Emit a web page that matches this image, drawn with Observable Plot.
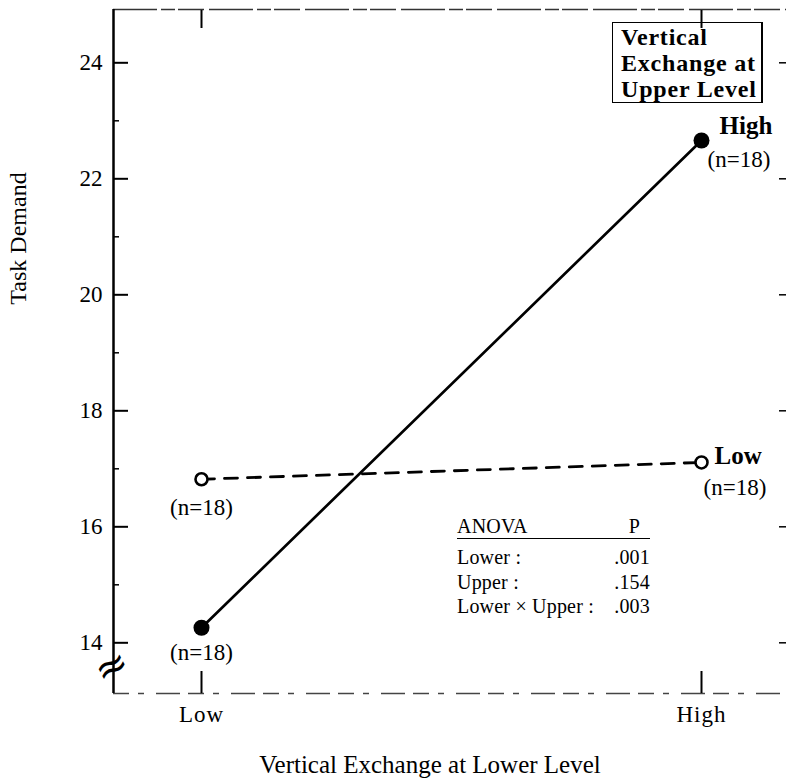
<!DOCTYPE html>
<html>
<head>
<meta charset="utf-8">
<script src="https://cdn.jsdelivr.net/npm/d3@7"></script>
<script src="https://cdn.jsdelivr.net/npm/@observablehq/plot@0.6"></script>
<style>
  body { margin: 0; background: #fff; }
  #wrap { position: relative; width: 786px; height: 778px; font-family: "Liberation Serif", "Times New Roman", serif; color: #000; }
  g[aria-label="ytitle"] text { letter-spacing: 3.4px; }
  g[aria-label="xtitle"] text { letter-spacing: 2.2px; }
  g[aria-label="nlabel"] text { letter-spacing: 3px; }
  g[aria-label="serieslabel"] text { letter-spacing: 1.2px; }
  g[aria-label="x-axis tick label"] text { letter-spacing: 1px; }
  #legendbox { position: absolute; left: 612px; top: 22px; width: 140px; height: 78px;
    border: 1.5px solid #000; border-right-width: 2.2px; padding: 1px 0 0 8px;
    font-weight: bold; font-size: 24px; line-height: 26px; letter-spacing: 0.8px; box-sizing: content-box; }
  #anova { position: absolute; left: 457px; top: 515px; width: 193px; font-size: 20px; letter-spacing: 0.2px; }
  #anova .hdr { display: flex; justify-content: space-between; line-height: 23px; border-bottom: 1.6px solid #000; padding-right: 10px; }
  #anova .rows { margin-top: 6px; }
  #anova .row { display: flex; justify-content: space-between; line-height: 24.5px; }
</style>
</head>
<body>
<div id="wrap"></div>
<script>
// ---- data ----
const lowerLevels = ["Low", "High"];            // x categories: Vertical Exchange at Lower Level
const upperLevels = ["High", "Low"];            // series: Vertical Exchange at Upper Level
const taskDemandUpperHigh = [14.26, 22.66];     // solid line, filled dots
const taskDemandUpperLow = [16.82, 17.11];      // dashed line, open dots
const groupN = [18, 18];
const yTicks = [14, 16, 18, 20, 22, 24];
const yMinorTicks = [15, 17, 19, 21, 23];
const xPositions = [0, 1];
const anovaEffects = ["Lower :", "Upper :", "Lower × Upper :"];
const anovaP = [".001", ".154", ".003"];
const legendTitle = ["Vertical", "Exchange at", "Upper Level"];
const yTitle = "Task Demand";
const xTitle = "Vertical Exchange at Lower Level";

const xDomain = [-0.176, 1.17];
const yDomain = [13.126, 24.919];

const rowsHigh = xPositions.map((p, i) => ({lower: p, demand: taskDemandUpperHigh[i], n: groupN[i], upper: upperLevels[0]}));
const rowsLow = xPositions.map((p, i) => ({lower: p, demand: taskDemandUpperLow[i], n: groupN[i], upper: upperLevels[1]}));
const nText = d => `(n=${d.n})`;

const chart = Plot.plot({
  width: 786,
  height: 778,
  marginLeft: 113,
  marginRight: 0,
  marginTop: 9,
  marginBottom: 85,
  x: {domain: xDomain, axis: null},
  y: {domain: yDomain, axis: null},
  style: {fontFamily: "'Liberation Serif', 'Times New Roman', serif", fontSize: "22px", color: "#000", background: "#fff", overflow: "visible"},
  marks: [
    // frame
    Plot.ruleY([yDomain[1]], {stroke: "#333", strokeWidth: 1.4, strokeDasharray: "44,4,14,3,26,5"}),
    Plot.ruleY([yDomain[0]], {stroke: "#444", strokeWidth: 1.4, strokeDasharray: "16,9,6,12,24,8"}),
    Plot.ruleX([xDomain[0]], {stroke: "#000", strokeWidth: 2.5}),
    // axes
    Plot.axisY(yTicks, {anchor: "left", tickSize: -15, tickPadding: 26, tickFormat: d => String(d), label: null, fontSize: 23, strokeWidth: 2}),
    Plot.axisY(yMinorTicks, {anchor: "left", tickSize: -6, tickFormat: () => "", label: null, strokeWidth: 1.5}),
    Plot.axisY(yTicks, {anchor: "right", tickSize: -8, tickFormat: () => "", label: null, strokeWidth: 1.5}),
    Plot.axisX(xPositions, {anchor: "top", tickSize: -18, tickFormat: () => "", label: null, strokeWidth: 2}),
    Plot.axisX(xPositions, {anchor: "bottom", tickSize: -22, tickPadding: 34, tickFormat: i => lowerLevels[i], label: null, fontSize: 23, strokeWidth: 2}),
    // axis break
    Plot.text(["≈"], {frameAnchor: "bottom-left", textAnchor: "middle", lineAnchor: "middle", dx: -2, dy: -27, rotate: -28, fontSize: 40, fontFamily: "DejaVu Sans", ariaLabel: "break"}),
    // titles
    Plot.text([yTitle], {frameAnchor: "top-left", textAnchor: "middle", lineAnchor: "middle", dx: -95, dy: 229, rotate: -90, fontSize: 24, ariaLabel: "ytitle"}),
    Plot.text([xTitle], {frameAnchor: "bottom", textAnchor: "middle", lineAnchor: "bottom", dx: -20, dy: 79, fontSize: 25, ariaLabel: "xtitle"}),
    // lines
    Plot.line(rowsLow, {x: "lower", y: "demand", stroke: "#000", strokeWidth: 2.8, strokeDasharray: "13,10"}),
    Plot.line(rowsHigh, {x: "lower", y: "demand", stroke: "#000", strokeWidth: 2.7}),
    // points
    Plot.dot(rowsLow, {x: "lower", y: "demand", r: 6, fill: "#fff", stroke: "#000", strokeWidth: 2.6}),
    Plot.dot(rowsHigh, {x: "lower", y: "demand", r: 8, fill: "#000"}),
    // series labels
    Plot.text([rowsHigh[1]], {x: "lower", y: "demand", text: "upper", textAnchor: "start", dx: 18, dy: -15, fontWeight: "bold", fontSize: 25, ariaLabel: "serieslabel"}),
    Plot.text([rowsLow[1]], {x: "lower", y: "demand", text: "upper", textAnchor: "start", dx: 13, dy: -6, fontWeight: "bold", fontSize: 25, ariaLabel: "serieslabel"}),
    // n labels
    Plot.text([rowsHigh[0]], {x: "lower", y: "demand", text: nText, dy: 25, fontSize: 23, ariaLabel: "nlabel"}),
    Plot.text([rowsHigh[1]], {x: "lower", y: "demand", text: nText, textAnchor: "start", dx: 6, dy: 19, fontSize: 23, ariaLabel: "nlabel"}),
    Plot.text([rowsLow[0]], {x: "lower", y: "demand", text: nText, dx: 0, dy: 28, fontSize: 23, ariaLabel: "nlabel"}),
    Plot.text([rowsLow[1]], {x: "lower", y: "demand", text: nText, textAnchor: "start", dx: 2, dy: 25, fontSize: 23, ariaLabel: "nlabel"})
  ]
});

const wrap = document.getElementById("wrap");
wrap.appendChild(chart);

// legend box (title of the series)
const box = document.createElement("div");
box.id = "legendbox";
box.innerHTML = legendTitle.map(t => `<div>${t}</div>`).join("");
wrap.appendChild(box);

// ANOVA table
const anova = document.createElement("div");
anova.id = "anova";
anova.innerHTML = `<div class="hdr"><span>ANOVA</span><span>P</span></div><div class="rows">` +
  anovaEffects.map((e, i) => `<div class="row"><span>${e}</span><span>${anovaP[i]}</span></div>`).join("") + `</div>`;
wrap.appendChild(anova);
</script>
</body>
</html>
